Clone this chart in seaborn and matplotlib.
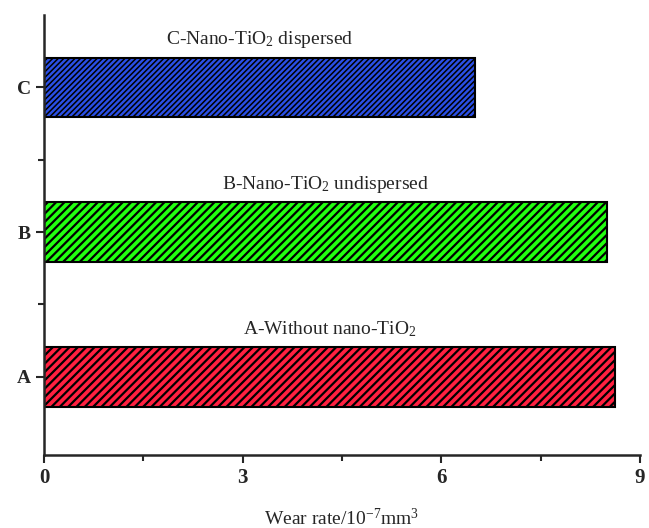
import matplotlib
matplotlib.use("Agg")
import matplotlib.pyplot as plt
import seaborn as sns
import pandas as pd
from matplotlib.ticker import MultipleLocator, FixedLocator

samples = ["C", "B", "A"]
wear_rate = [6.51, 8.50, 8.63]
descriptions = ["C-Nano-TiO$_2$ dispersed", "B-Nano-TiO$_2$ undispersed", "A-Without nano-TiO$_2$"]
colors = ["#2a4fe6", "#22ff10", "#ff2040"]
hatches = ["//////", "////", "////"]
hatch_widths = [1.1, 1.6, 1.6]
x_ticks = [0, 3, 6, 9]

sns.set_style("ticks")
plt.rcParams["font.family"] = ["Liberation Serif", "DejaVu Serif"]
plt.rcParams["mathtext.fontset"] = "custom"
plt.rcParams["mathtext.rm"] = "Liberation Serif"
plt.rcParams["mathtext.it"] = "Liberation Serif:italic"
plt.rcParams["hatch.linewidth"] = 1.6

df = pd.DataFrame({"sample": samples, "rate": wear_rate})

fig = plt.figure(figsize=(6.49, 5.28), dpi=100)
ax = fig.add_axes([0.068, 0.138, 0.918, 0.834])

sns.barplot(data=df, x="rate", y="sample", order=samples, orient="h",
            hue="sample", palette=dict(zip(samples, colors)), legend=False,
            saturation=1, width=0.41, edgecolor="black", linewidth=1.5, ax=ax)

for patch, h, hw in zip(ax.patches, hatches, hatch_widths):
    patch.set_hatch(h)
    if hasattr(patch, "set_hatch_linewidth"):
        patch.set_hatch_linewidth(hw)

for i, (v, d) in enumerate(zip(wear_rate, descriptions)):
    ax.text(v / 2, i - 0.33, d, ha="center", va="center", fontsize=14)

ax.set_xlim(0, 9)
ax.set_ylim(2.54, -0.5)
ax.set_xticks(x_ticks)
ax.set_xticklabels([str(t) for t in x_ticks], fontsize=15, fontweight="bold")
ax.xaxis.set_minor_locator(MultipleLocator(1.5))
ax.yaxis.set_minor_locator(FixedLocator([0.5, 1.5]))
ax.set_yticks(range(len(samples)))
ax.set_yticklabels(samples, fontsize=14, fontweight="bold")
ax.tick_params(axis="both", which="major", length=6, width=1.5, direction="out")
ax.tick_params(axis="both", which="minor", length=4, width=1.5, direction="out")
ax.set_ylabel("")
ax.set_xlabel("Wear rate/10$^{-7}$mm$^3$", fontsize=14, labelpad=14)
for s in ["left", "bottom"]:
    ax.spines[s].set_linewidth(1.8)
sns.despine(ax=ax)

fig.savefig("out.png", dpi=100)
